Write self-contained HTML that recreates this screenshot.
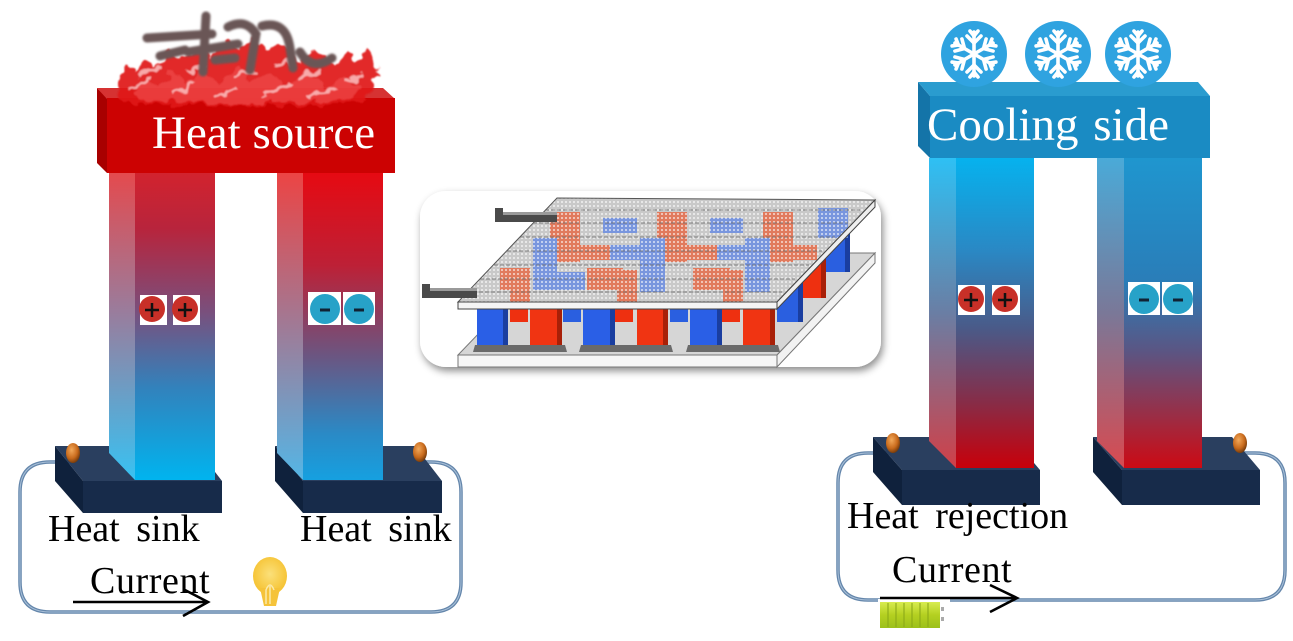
<!DOCTYPE html>
<html><head><meta charset="utf-8"><style>
html,body{margin:0;padding:0;background:#fff;}
svg{display:block;}
text{font-family:"Liberation Serif",serif;}
</style></head><body>
<svg width="1293" height="641" viewBox="0 0 1293 641" xmlns="http://www.w3.org/2000/svg">
<defs>
<linearGradient id="lp1f" x1="0" y1="173" x2="0" y2="480" gradientUnits="userSpaceOnUse">
<stop offset="0" stop-color="#d2232e"/><stop offset="0.18" stop-color="#b8243c"/><stop offset="0.45" stop-color="#7a4f7c"/><stop offset="0.7" stop-color="#3282bc"/><stop offset="1" stop-color="#00b4ef"/></linearGradient>
<linearGradient id="lp1l" x1="0" y1="173" x2="0" y2="480" gradientUnits="userSpaceOnUse">
<stop offset="0" stop-color="#e44a4e"/><stop offset="0.45" stop-color="#9a7c9c"/><stop offset="1" stop-color="#38c2f2"/></linearGradient>
<linearGradient id="lp2f" x1="0" y1="173" x2="0" y2="480" gradientUnits="userSpaceOnUse">
<stop offset="0" stop-color="#e60a12"/><stop offset="0.3" stop-color="#bd2036"/><stop offset="0.6" stop-color="#6a5682"/><stop offset="0.85" stop-color="#2a8ac6"/><stop offset="1" stop-color="#16a0e0"/></linearGradient>
<linearGradient id="lp2l" x1="0" y1="173" x2="0" y2="480" gradientUnits="userSpaceOnUse">
<stop offset="0" stop-color="#ec4444"/><stop offset="0.5" stop-color="#a07a96"/><stop offset="1" stop-color="#54b6e6"/></linearGradient>
<linearGradient id="rp1f" x1="0" y1="158" x2="0" y2="468" gradientUnits="userSpaceOnUse">
<stop offset="0" stop-color="#06b2ee"/><stop offset="0.3" stop-color="#2a88c4"/><stop offset="0.55" stop-color="#4a5a88"/><stop offset="0.8" stop-color="#8a2a44"/><stop offset="1" stop-color="#c8000a"/></linearGradient>
<linearGradient id="rp1l" x1="0" y1="158" x2="0" y2="468" gradientUnits="userSpaceOnUse">
<stop offset="0" stop-color="#2ec0f4"/><stop offset="0.5" stop-color="#6a7ea4"/><stop offset="1" stop-color="#d04048"/></linearGradient>
<linearGradient id="rp2f" x1="0" y1="158" x2="0" y2="468" gradientUnits="userSpaceOnUse">
<stop offset="0" stop-color="#1f96cf"/><stop offset="0.4" stop-color="#2a7db8"/><stop offset="0.62" stop-color="#5a5684"/><stop offset="0.85" stop-color="#a02a40"/><stop offset="1" stop-color="#cc0a14"/></linearGradient>
<linearGradient id="rp2l" x1="0" y1="158" x2="0" y2="468" gradientUnits="userSpaceOnUse">
<stop offset="0" stop-color="#4aaad8"/><stop offset="0.5" stop-color="#7a7898"/><stop offset="1" stop-color="#d84a50"/></linearGradient>
<radialGradient id="knob" cx="0.4" cy="0.35" r="0.7">
<stop offset="0" stop-color="#f2a85a"/><stop offset="0.6" stop-color="#c86a1c"/><stop offset="1" stop-color="#6a3408"/></radialGradient>
<radialGradient id="bulb" cx="0.5" cy="0.45" r="0.6">
<stop offset="0" stop-color="#fbe07a"/><stop offset="1" stop-color="#f5bf2a"/></radialGradient>
<linearGradient id="batt" x1="0" y1="0" x2="0" y2="1">
<stop offset="0" stop-color="#d8ec50"/><stop offset="0.5" stop-color="#b4d020"/><stop offset="1" stop-color="#9cc01c"/></linearGradient>
<pattern id="dots" width="4" height="4" patternUnits="userSpaceOnUse">
<rect x="1" y="1" width="2" height="2" fill="#fff" opacity="0.55"/></pattern>
<filter id="sh" x="-10%" y="-10%" width="120%" height="130%">
<feDropShadow dx="2" dy="4" stdDeviation="4" flood-color="#000" flood-opacity="0.45"/></filter>
<filter id="rag" x="-10%" y="-30%" width="120%" height="160%">
<feTurbulence type="fractalNoise" baseFrequency="0.09" numOctaves="2" seed="3" result="n"/>
<feDisplacementMap in="SourceGraphic" in2="n" scale="14" xChannelSelector="R" yChannelSelector="G" result="d"/>
<feGaussianBlur in="d" stdDeviation="0.8"/>
</filter>
<filter id="soft"><feGaussianBlur stdDeviation="1.1"/></filter>
<g id="arm">
<line x1="0" y1="0" x2="0" y2="-22"/><line x1="0" y1="-11" x2="-7" y2="-18"/><line x1="0" y1="-11" x2="7" y2="-18"/><line x1="0" y1="-18" x2="-4" y2="-23"/><line x1="0" y1="-18" x2="4" y2="-23"/>
</g>
<g id="flake" stroke="#fff" stroke-width="3.6" stroke-linecap="round" fill="none">
<use href="#arm"/><use href="#arm" transform="rotate(60)"/><use href="#arm" transform="rotate(120)"/><use href="#arm" transform="rotate(180)"/><use href="#arm" transform="rotate(240)"/><use href="#arm" transform="rotate(300)"/>
</g>
</defs>

<!-- ========== LEFT DIAGRAM ========== -->
<path d="M73,462 H50 Q20,462 20,492 V582 Q20,612 50,612 H431 Q461,612 461,582 V492 Q461,462 431,462 H420" fill="none" stroke="#6486ab" stroke-width="3.5"/>
<path d="M73,462 H50 Q20,462 20,492 V582 Q20,612 50,612 H431 Q461,612 461,582 V492 Q461,462 431,462 H420" fill="none" stroke="#a9c0d8" stroke-width="1"/>

<polygon points="55,446 195,446 222,481 83,481" fill="#2a3f5f"/>
<polygon points="55,446 83,481 83,513 55,481" fill="#0f213c"/>
<rect x="83" y="481" width="139" height="32" fill="#172b4a"/>
<polygon points="275,446 415,446 442,481 303,481" fill="#2a3f5f"/>
<polygon points="275,446 303,481 303,513 275,481" fill="#0f213c"/>
<rect x="303" y="481" width="139" height="32" fill="#172b4a"/>

<polygon points="109,173 135,173 135,480 109,453" fill="url(#lp1l)"/>
<rect x="135" y="173" width="80" height="307" fill="url(#lp1f)"/>
<polygon points="277,173 303,173 303,480 277,453" fill="url(#lp2l)"/>
<rect x="303" y="173" width="80" height="307" fill="url(#lp2f)"/>

<ellipse cx="73" cy="453" rx="7" ry="10" fill="url(#knob)"/>
<ellipse cx="420" cy="452" rx="7" ry="10" fill="url(#knob)"/>

<!-- heat source bar -->
<polygon points="97,88 107,98 107,173 97,163" fill="#a80000"/>
<polygon points="97,88 383,88 395,99 107,99" fill="#d63232"/>
<rect x="107" y="98" width="288" height="75" fill="#cc0202"/>

<!-- flames -->
<g filter="url(#rag)">
<polygon points="118,96 120,78 128,64 136,72 144,60 154,66 168,52 182,60 196,48 212,56 226,40 240,52 252,36 264,48 278,44 292,54 302,62 314,50 326,56 336,66 348,52 358,60 366,50 374,60 378,72 372,88 366,100 340,104 300,106 250,104 200,105 150,104 122,102" fill="#e01818" opacity="0.92"/>
<polygon points="135,96 145,80 160,88 172,72 188,84 202,70 218,84 236,68 252,82 270,72 288,86 306,74 326,88 346,76 362,90 352,100 300,102 200,102 145,101" fill="#f04848" opacity="0.7"/>
<path d="M126,90 L150,80 M170,94 L195,84 M215,97 L240,88 M262,95 L290,85 M310,97 L335,88 M140,74 L160,68 M300,78 L320,72 M345,82 L362,76 M185,70 L205,66 M235,76 L255,70 M275,66 L290,62" stroke="#fbc0c0" stroke-width="3.5" fill="none" opacity="0.85"/>
</g>
<g filter="url(#soft)">
<path d="M147,38 L212,34 M206,16 L203,72 M188,52 L238,44 M228,27 Q246,18 256,34 L250,70 M262,26 Q286,20 290,48 L293,68 M300,52 Q312,72 332,58 M160,56 L185,50 M215,60 L235,58" stroke="#6b5656" stroke-width="9" fill="none" stroke-linecap="round"/>
</g>

<text x="152" y="148" font-size="47" fill="#ffffff">Heat source</text>

<rect x="140" y="295" width="27" height="30" fill="#fff"/>
<rect x="173" y="295" width="27" height="30" fill="#fff"/>
<circle cx="152" cy="309" r="13" fill="#c83028"/>
<circle cx="185" cy="309" r="13" fill="#c83028"/>
<path d="M145,310 H159 M152,303 V317 M178,310 H192 M185,303 V317" stroke="#111" stroke-width="2.5"/>
<rect x="308" y="292" width="33" height="33" fill="#fff"/>
<rect x="343" y="292" width="32" height="33" fill="#fff"/>
<circle cx="325" cy="309" r="15" fill="#27a2c8"/>
<circle cx="359" cy="309" r="15" fill="#27a2c8"/>
<path d="M320,310 H330 M354,310 H364" stroke="#123" stroke-width="3"/>

<text x="48" y="541" font-size="38" fill="#000" word-spacing="7">Heat sink</text>
<text x="300" y="541" font-size="38" fill="#000" word-spacing="7">Heat sink</text>
<text x="90" y="593" font-size="38" fill="#000" letter-spacing="0.6">Current</text>
<path d="M73,602 H207 M183,589 L208,602 L183,616" fill="none" stroke="#000" stroke-width="2.6"/>

<ellipse cx="270" cy="576" rx="17" ry="19" fill="url(#bulb)"/>
<path d="M260,588 L264,606 H276 L280,588 Z" fill="#f5c33a"/>
<path d="M266,604 V590 Q270,580 274,590 M270,586 V604" fill="none" stroke="#fbe9a8" stroke-width="1.5"/>

<!-- ========== CENTER MODULE ========== -->
<rect x="420" y="191" width="461" height="176" rx="26" fill="#fff" filter="url(#sh)"/>
<polygon points="556,253 875,253 777,355 458,355" fill="#d6d6d6" stroke="#777" stroke-width="1"/>
<polygon points="875,253 875,263 777,367 777,355" fill="#f2f2f2" stroke="#777" stroke-width="1"/>
<rect x="458" y="355" width="319" height="12" fill="#f6f6f6" stroke="#777" stroke-width="1"/>
<polygon points="823,228 850,228 850,272 823,272" fill="#2a5fe0"/><rect x="845" y="228" width="5" height="44" fill="#1a3ea0"/>
<polygon points="800,256 826,256 826,298 800,298" fill="#ee3010"/><rect x="821" y="256" width="5" height="42" fill="#a82008"/>
<polygon points="777,280 803,280 803,322 777,322" fill="#2a5fe0"/><rect x="798" y="280" width="5" height="42" fill="#1a3ea0"/>
<rect x="510" y="305" width="18" height="17" fill="#ee3010"/>
<rect x="563" y="305" width="18" height="17" fill="#2a5fe0"/>
<rect x="615" y="305" width="18" height="17" fill="#ee3010"/>
<rect x="670" y="305" width="18" height="17" fill="#2a5fe0"/>
<rect x="722" y="305" width="18" height="17" fill="#ee3010"/>
<g>
<rect x="477" y="305" width="31" height="40" fill="#2a5fe6"/><rect x="503" y="305" width="5" height="40" fill="#1a3ea0"/>
<rect x="530" y="305" width="32" height="40" fill="#f03412"/><rect x="557" y="305" width="5" height="40" fill="#a82008"/>
<rect x="583" y="305" width="32" height="40" fill="#2a5fe6"/><rect x="610" y="305" width="5" height="40" fill="#1a3ea0"/>
<rect x="637" y="305" width="31" height="40" fill="#f03412"/><rect x="663" y="305" width="5" height="40" fill="#a82008"/>
<rect x="690" y="305" width="32" height="40" fill="#2a5fe6"/><rect x="717" y="305" width="5" height="40" fill="#1a3ea0"/>
<rect x="743" y="305" width="32" height="40" fill="#f03412"/><rect x="770" y="305" width="5" height="40" fill="#a82008"/>
</g>
<polygon points="475,345 565,345 567,352 473,352" fill="#6a6a6a"/>
<polygon points="581,345 671,345 673,352 579,352" fill="#6a6a6a"/>
<polygon points="688,345 778,345 780,352 686,352" fill="#6a6a6a"/>
<polygon points="557,198 875,200 777,302 458,302" fill="#c9c9c9"/>
<g opacity="0.88">
<rect x="550" y="212" width="30" height="50" fill="#e5704f"/>
<rect x="657" y="212" width="30" height="50" fill="#e5704f"/>
<rect x="763" y="212" width="30" height="50" fill="#e5704f"/>
<rect x="570" y="245" width="40" height="15" fill="#e5704f"/>
<rect x="677" y="245" width="40" height="15" fill="#e5704f"/>
<rect x="783" y="245" width="34" height="15" fill="#e5704f"/>
<rect x="500" y="268" width="30" height="22" fill="#e5704f"/>
<rect x="587" y="268" width="36" height="22" fill="#e5704f"/>
<rect x="693" y="268" width="37" height="22" fill="#e5704f"/>
<rect x="510" y="270" width="20" height="32" fill="#e5704f"/>
<rect x="617" y="270" width="20" height="32" fill="#e5704f"/>
<rect x="723" y="270" width="20" height="32" fill="#e5704f"/>
<rect x="603" y="218" width="34" height="15" fill="#6f8fe2"/>
<rect x="710" y="218" width="33" height="15" fill="#6f8fe2"/>
<rect x="533" y="238" width="24" height="52" fill="#6f8fe2"/>
<rect x="640" y="238" width="25" height="54" fill="#6f8fe2"/>
<rect x="745" y="238" width="25" height="54" fill="#6f8fe2"/>
<rect x="610" y="245" width="40" height="15" fill="#6f8fe2"/>
<rect x="717" y="245" width="28" height="15" fill="#6f8fe2"/>
<rect x="540" y="272" width="45" height="18" fill="#6f8fe2"/>
<rect x="818" y="208" width="30" height="30" fill="#6f8fe2"/>
</g>
<polygon points="557,198 875,200 777,302 458,302" fill="url(#dots)"/>
<g stroke="#6a6a6a" stroke-width="1" stroke-dasharray="4 2" opacity="0.8">
<line x1="545" y1="210" x2="860" y2="210"/><line x1="533" y1="223" x2="848" y2="223"/>
<line x1="520" y1="237" x2="835" y2="237"/><line x1="507" y1="251" x2="822" y2="251"/>
<line x1="494" y1="265" x2="809" y2="265"/><line x1="480" y1="279" x2="795" y2="279"/>
<line x1="467" y1="292" x2="782" y2="292"/>
</g>
<polygon points="557,198 875,200 777,302 458,302" fill="none" stroke="#555" stroke-width="1"/>
<rect x="458" y="302" width="319" height="7" fill="#f4f4f4" stroke="#444" stroke-width="1"/>
<polygon points="875,200 875,207 777,309 777,302" fill="#eee" stroke="#444" stroke-width="1"/>
<polygon points="495,208 503,208 503,212 557,212 557,222 495,222" fill="#4a4a4a"/>
<rect x="503" y="212" width="54" height="3" fill="#9a9a9a"/>
<polygon points="422,284 430,284 430,288 477,288 477,298 422,298" fill="#4a4a4a"/>
<rect x="430" y="288" width="47" height="3" fill="#9a9a9a"/>

<!-- ========== RIGHT DIAGRAM ========== -->
<path d="M893,453 H868 Q838,453 838,483 V570 Q838,600 868,600 H1255 Q1285,600 1285,570 V483 Q1285,453 1255,453 H1240" fill="none" stroke="#6486ab" stroke-width="3.5"/>
<path d="M893,453 H868 Q838,453 838,483 V570 Q838,600 868,600 H1255 Q1285,600 1285,570 V483 Q1285,453 1255,453 H1240" fill="none" stroke="#a9c0d8" stroke-width="1"/>

<polygon points="873,437 1012,437 1040,470 902,470" fill="#2a3f5f"/>
<polygon points="873,437 902,470 902,505 873,472" fill="#0f213c"/>
<rect x="902" y="470" width="138" height="35" fill="#172b4a"/>
<polygon points="1093,437 1232,437 1260,470 1122,470" fill="#2a3f5f"/>
<polygon points="1093,437 1122,470 1122,505 1093,472" fill="#0f213c"/>
<rect x="1122" y="470" width="138" height="35" fill="#172b4a"/>

<polygon points="929,158 956,158 956,468 929,441" fill="url(#rp1l)"/>
<rect x="956" y="158" width="78" height="310" fill="url(#rp1f)"/>
<polygon points="1097,158 1124,158 1124,468 1097,441" fill="url(#rp2l)"/>
<rect x="1124" y="158" width="78" height="310" fill="url(#rp2f)"/>

<ellipse cx="893" cy="443" rx="7" ry="10" fill="url(#knob)"/>
<ellipse cx="1240" cy="443" rx="7" ry="10" fill="url(#knob)"/>

<polygon points="918,82 930,96 930,158 918,146" fill="#1474a8"/>
<polygon points="918,82 1198,82 1210,96 930,96" fill="#2a9ccf"/>
<rect x="930" y="96" width="280" height="62" fill="#1a8bc3"/>
<circle cx="974" cy="54" r="33" fill="#2fa3e0"/>
<circle cx="1058" cy="54" r="33" fill="#2fa3e0"/>
<circle cx="1138" cy="54" r="33" fill="#2fa3e0"/>
<use href="#flake" transform="translate(974,54)"/>
<use href="#flake" transform="translate(1058,54)"/>
<use href="#flake" transform="translate(1138,54)"/>

<text x="927" y="140" font-size="47" fill="#ffffff" word-spacing="3">Cooling side</text>

<rect x="958" y="285" width="27" height="30" fill="#fff"/>
<rect x="992" y="285" width="28" height="30" fill="#fff"/>
<circle cx="971" cy="299" r="13" fill="#c83028"/>
<circle cx="1005" cy="299" r="13" fill="#c83028"/>
<path d="M964,300 H978 M971,293 V307 M998,300 H1012 M1005,293 V307" stroke="#111" stroke-width="2.5"/>
<rect x="1128" y="282" width="32" height="33" fill="#fff"/>
<rect x="1162" y="282" width="31" height="33" fill="#fff"/>
<circle cx="1144" cy="299" r="15" fill="#27a2c8"/>
<circle cx="1178" cy="299" r="15" fill="#27a2c8"/>
<path d="M1139,300 H1149 M1173,300 H1183" stroke="#123" stroke-width="3"/>

<text x="847" y="528" font-size="38" fill="#000" word-spacing="7">Heat rejection</text>
<text x="892" y="582" font-size="38" fill="#000" letter-spacing="0.6">Current</text>

<rect x="878" y="599" width="72" height="31" fill="#fff"/>
<rect x="880" y="602" width="60" height="26" fill="url(#batt)"/>
<path d="M888,603 V627 M896,603 V627 M904,603 V627 M912,603 V627 M920,603 V627 M928,603 V627" stroke="#8aa818" stroke-width="1.5" opacity="0.7"/>
<rect x="941" y="607" width="3" height="4" fill="#aaa"/><rect x="941" y="617" width="3" height="4" fill="#aaa"/>
<path d="M880,598 H1016 M990,585 L1017,598 L990,612" fill="none" stroke="#000" stroke-width="2.6"/>
</svg>
</body></html>
